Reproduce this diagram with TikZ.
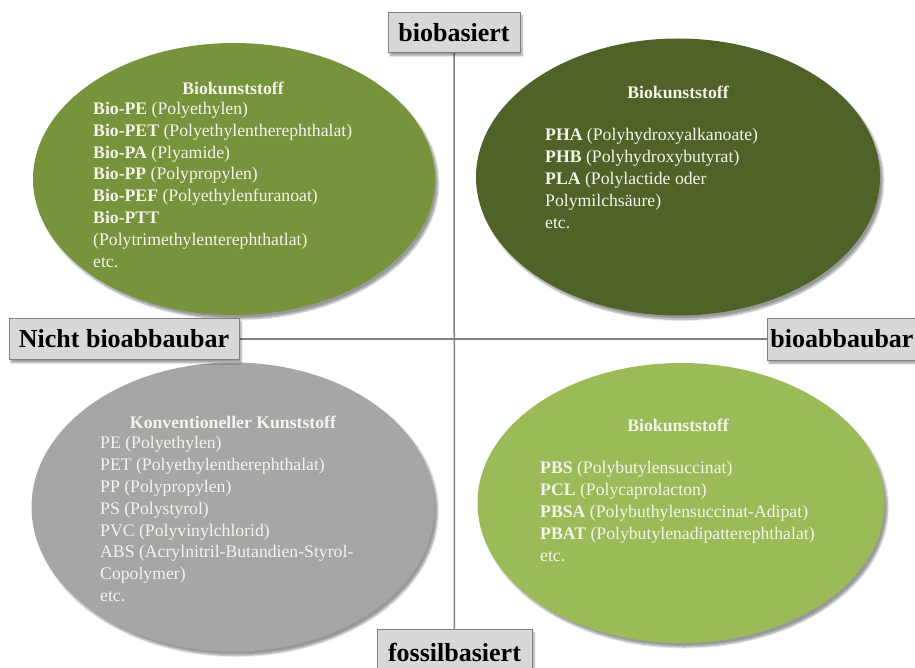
\documentclass[tikz,border=0pt]{standalone}
\usepackage{fontspec}
\setmainfont{Liberation Serif}
\usetikzlibrary{shapes.geometric,shadows.blur,positioning}

\definecolor{olivemid}{HTML}{77933C}
\definecolor{olivedark}{HTML}{4F6228}
\definecolor{olivelight}{HTML}{9BBB59}
\definecolor{fossilgray}{HTML}{A5A6A5}
\definecolor{boxgray}{HTML}{D8D8D8}
\definecolor{axisgray}{HTML}{808080}
\definecolor{lighttext}{HTML}{F4F4EC}

\tikzset{
  axislabel/.style={draw=axisgray, fill=boxgray, line width=1pt, inner sep=0pt,
    font=\fontsize{26}{30}\selectfont\bfseries,
    blur shadow={shadow xshift=2pt, shadow yshift=-3pt, shadow blur steps=5}},
  sector/.style={ellipse, inner sep=0pt,
    blur shadow={shadow xshift=3pt, shadow yshift=-4pt, shadow blur steps=8}},
  sectortitle/.style={inner sep=0pt, text=lighttext,
    font=\fontsize{17.7}{21.8}\selectfont\bfseries},
  sectorlist/.style={anchor=north west, align=left, inner sep=0pt, text=lighttext,
    font=\fontsize{17.7}{21.8}\selectfont}
}

\begin{document}
\begin{tikzpicture}[x=1pt, y=-1pt]
    \useasboundingbox (0,0) rectangle (915,668);
    % sectors
    \node[sector, fill=olivemid, minimum width=402pt, minimum height=272pt] (biofest) at (234,179) {};
    \node[sector, fill=olivedark, minimum width=404pt, minimum height=277pt] (bioabbau) at (678,177) {};
    \node[sector, fill=fossilgray, minimum width=403pt, minimum height=289pt] (konv) at (233,507) {};
    \node[sector, fill=olivelight, minimum width=407pt, minimum height=280pt] (fossilabbau) at (681,503) {};

    % top left
    \node[sectortitle] at (233,88) {Biokunststoff};
    \node[sectorlist] at (93,102) {\textbf{Bio-PE} (Polyethylen)\\
      \textbf{Bio-PET} (Polyethylentherephthalat)\\
      \textbf{Bio-PA} (Plyamide)\\
      \textbf{Bio-PP} (Polypropylen)\\
      \textbf{Bio-PEF} (Polyethylenfuranoat)\\
      \textbf{Bio-PTT}\\
      (Polytrimethylenterephthatlat)\\
      etc.};
    % top right
    \node[sectortitle] at (678,92) {Biokunststoff};
    \node[sectorlist] at (545,128.5) {\textbf{PHA} (Polyhydroxyalkanoate)\\
      \textbf{PHB} (Polyhydroxybutyrat)\\
      \textbf{PLA} (Polylactide oder\\
      Polymilchsäure)\\
      etc.};
    % bottom left
    \node[sectortitle] at (233,422) {Konventioneller Kunststoff};
    \node[sectorlist] at (100,436.5) {PE (Polyethylen)\\
      PET (Polyethylentherephthalat)\\
      PP (Polypropylen)\\
      PS (Polystyrol)\\
      PVC (Polyvinylchlorid)\\
      ABS (Acrylnitril-Butandien-Styrol-\\
      Copolymer)\\
      etc.};
    % bottom right
    \node[sectortitle] at (678,425) {Biokunststoff};
    \node[sectorlist] at (540,461.5) {\textbf{PBS} (Polybutylensuccinat)\\
      \textbf{PCL} (Polycaprolacton)\\
      \textbf{PBSA} (Polybuthylensuccinat-Adipat)\\
      \textbf{PBAT} (Polybutylenadipatterephthalat)\\
      etc.};

    % axes
    \coordinate (top) at (454,32.5);
    \coordinate (bottom) at (454.5,652);
    \coordinate (left) at (124,339);
    \coordinate (right) at (842,339);
    \draw[axisgray, line width=1.5pt] (top) -- (bottom);
    \draw[axisgray, line width=1.5pt] (left) -- (right);
    \node[axislabel, minimum width=132pt, minimum height=40pt] (biobasiert) at (top) {biobasiert};
    \node[axislabel, minimum width=155pt, minimum height=45pt] (fossilbasiert) at (bottom) {fossilbasiert};
    \node[axislabel, minimum width=230pt, minimum height=41pt] (nichtbio) at (left) {Nicht bioabbaubar};
    \node[axislabel, minimum width=150pt, minimum height=42pt] (bioabbaubar) at (right) {bioabbaubar};
\end{tikzpicture}
\end{document}
